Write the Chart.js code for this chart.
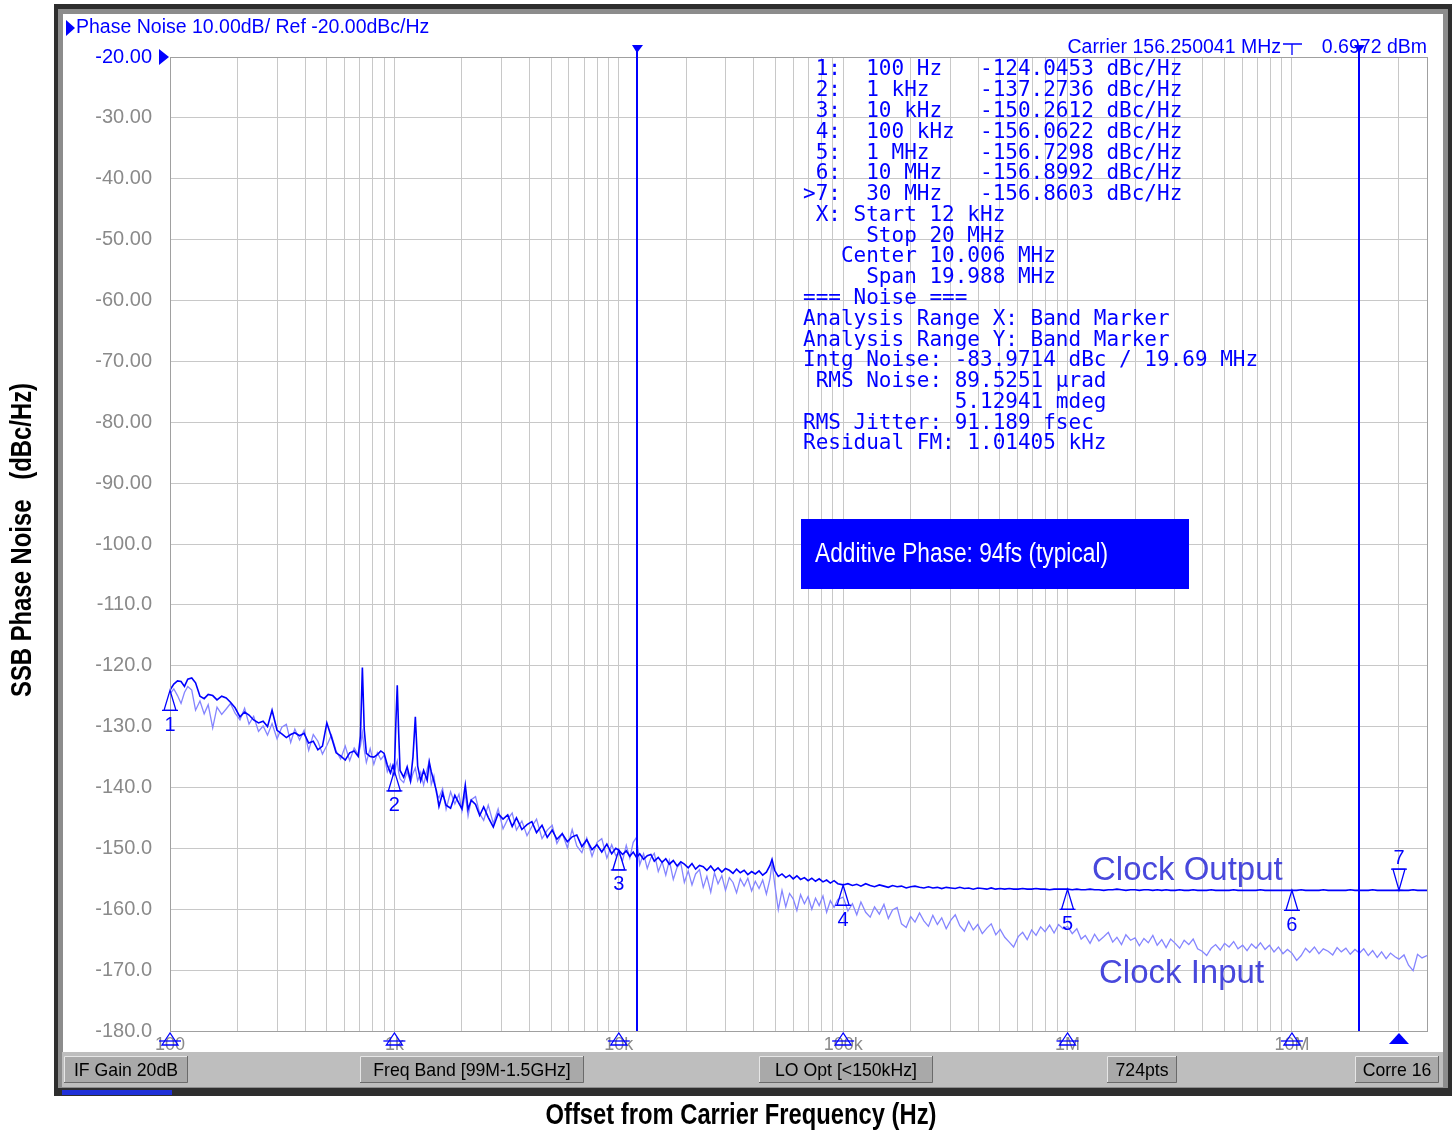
<!DOCTYPE html>
<html>
<head>
<meta charset="utf-8">
<script src="https://cdn.jsdelivr.net/npm/chart.js@4.4.1/dist/chart.umd.min.js"></script>
<style>
  html, body { margin: 0; padding: 0; background: #fff; }
  canvas { display: block; }
</style>
</head>
<body>
<canvas id="pn" width="1456" height="1131"></canvas>
<script>
// offset frequencies (Hz), shared by both traces
const freqs = [
  // 100 Hz - 1 kHz
  100,104,108,112,116,120,125,130,136,142,148,155,162,170,178,186,195,205,215,225,
  236,248,260,272,285,300,315,330,345,360,378,396,415,435,456,478,500,524,550,576,
  604,632,662,690,706,720,734,750,780,810,840,870,900,930,960,985,
  // 1 kHz - 10 kHz
  1000,1015,1030,1045,1060,1100,1140,1180,1210,1240,1270,1310,1350,1400,1430,1460,1500,1540,1580,1640,
  1700,1780,1860,1940,2000,2070,2130,2200,2300,2400,2500,2620,2760,2900,3050,3200,3350,3500,3700,3900,
  4100,4300,4550,4800,5050,5300,5600,5900,6200,6500,6850,7200,7600,8000,8400,8850,9300,9700,
  // 10 kHz - 100 kHz
  10000,10400,10800,11200,11600,12000,12400,12900,13400,13900,14400,15000,15600,16200,16800,
  17500,18200,18900,19600,20400,21200,22000,22900,23800,24700,25700,26700,27700,28800,29900,
  31100,32300,33500,34800,36200,37600,39100,40600,42200,43800,45500,47200,48200,49500,51400,
  53400,55500,57700,59900,62200,64600,67200,69800,72500,75300,78200,81300,84400,87700,91100,94700,
  // 100 kHz - 1 MHz
  100000,105000,110000,115000,120000,126000,132000,138000,145000,152000,
  159000,166000,174000,182000,191000,200000,209000,219000,229000,240000,
  251000,263000,275000,288000,302000,316000,331000,347000,363000,380000,
  398000,417000,437000,457000,479000,501000,525000,550000,575000,603000,
  631000,661000,692000,724000,759000,794000,832000,871000,912000,955000,
  // 1 MHz - 10 MHz
  1000000,1050000,1100000,1150000,1200000,1260000,1320000,1380000,1450000,1520000,
  1590000,1660000,1740000,1820000,1910000,2000000,2090000,2190000,2290000,2400000,
  2510000,2630000,2750000,2880000,3020000,3160000,3310000,3470000,3630000,3800000,
  3980000,4170000,4370000,4570000,4790000,5010000,5250000,5500000,5750000,6030000,
  6310000,6610000,6920000,7240000,7590000,7940000,8320000,8710000,9120000,9550000,
  // 10 MHz - 40 MHz
  10000000,10500000,11000000,11500000,12000000,12600000,13200000,13800000,14500000,15200000,
  15900000,16600000,17400000,18200000,19100000,20000000,20900000,21900000,22900000,24000000,
  25100000,26300000,27500000,28800000,30000000,31600000,33100000,34700000,36300000,38000000,40000000
];

// Clock Output trace (dBc/Hz)
const clockOutput = [
  -124.0,-123.0,-122.5,-122.6,-123.4,-122.2,-122.0,-122.8,-125.0,-125.4,-124.7,-124.9,-125.6,-125.0,-125.3,-126.0,-126.9,-128.4,-127.6,-128.1,
  -128.9,-129.4,-129.1,-130.0,-127.3,-130.6,-131.2,-131.8,-131.3,-131.0,-131.5,-131.1,-132.7,-132.4,-133.8,-133.2,-129.4,-131.7,-134.3,-134.8,
  -135.5,-134.3,-134.0,-134.9,-131.5,-120.3,-130.5,-134.4,-134.9,-135.0,-134.6,-134.0,-134.4,-136.3,-137.6,-136.4,

  -137.3,-129.5,-123.2,-131.0,-137.2,-138.3,-136.6,-138.9,-135.0,-128.4,-136.5,-138.9,-137.2,-138.8,-135.8,-137.4,-139.0,-140.6,-143.1,-140.9,
  -142.9,-143.4,-141.3,-142.6,-143.5,-139.6,-143.6,-142.1,-142.8,-144.6,-143.2,-144.9,-146.5,-144.3,-145.2,-144.5,-146.4,-145.0,-146.9,-146.1,
  -145.6,-147.4,-146.2,-148.2,-147.0,-148.5,-147.6,-148.9,-148.1,-147.8,-149.7,-148.6,-150.2,-149.4,-150.6,-149.3,-150.9,-150.0,

  -150.3,-151.0,-150.4,-151.3,-150.6,-151.5,-150.9,-151.8,-151.2,-151.0,-152.1,-151.5,-152.3,-151.7,-152.6,
  -152.0,-152.9,-152.2,-152.6,-153.2,-152.5,-153.4,-152.8,-153.0,-153.6,-152.9,-153.7,-153.2,-153.9,-153.3,
  -153.6,-154.1,-153.4,-154.0,-153.6,-154.3,-153.8,-154.2,-153.7,-154.4,-153.9,-152.8,-151.8,-153.6,-154.6,
  -154.2,-154.8,-154.4,-155.0,-154.5,-155.1,-154.8,-155.3,-154.9,-155.4,-155.0,-155.5,-155.2,-155.7,-155.3,-155.8,

  -156.0,-155.8,-156.1,-155.9,-156.2,-155.8,-156.1,-156.3,-156.0,-156.2,
  -156.4,-156.1,-156.3,-156.2,-156.5,-156.3,-156.2,-156.4,-156.5,-156.3,
  -156.5,-156.4,-156.6,-156.4,-156.5,-156.6,-156.4,-156.6,-156.5,-156.7,
  -156.5,-156.6,-156.7,-156.5,-156.7,-156.6,-156.7,-156.6,-156.7,-156.7,
  -156.6,-156.7,-156.7,-156.6,-156.7,-156.7,-156.8,-156.7,-156.7,-156.7,

  -156.7,-156.8,-156.7,-156.8,-156.8,-156.7,-156.8,-156.8,-156.9,-156.8,
  -156.8,-156.7,-156.8,-156.9,-156.8,-156.8,-156.9,-156.8,-156.8,-156.9,
  -156.8,-156.9,-156.8,-156.9,-156.9,-156.8,-156.9,-156.9,-156.8,-156.9,
  -156.9,-156.9,-156.8,-156.9,-156.9,-156.9,-156.9,-156.8,-156.9,-156.9,
  -156.9,-156.9,-156.9,-156.8,-156.9,-156.9,-156.9,-156.9,-156.9,-156.9,

  -156.9,-156.9,-156.8,-156.9,-156.9,-156.9,-156.9,-156.8,-156.9,-156.9,
  -156.9,-156.9,-156.9,-156.8,-156.9,-156.9,-156.9,-156.9,-156.8,-156.9,
  -156.9,-156.9,-156.9,-156.9,-156.86,-156.9,-156.9,-156.8,-156.9,-156.9,-156.9
];

// Clock Input trace (dBc/Hz)
const clockInput = [
  -124.6,-123.8,-124.9,-126.2,-124.4,-123.4,-124.0,-127.3,-125.8,-127.9,-126.4,-130.2,-126.8,-128.0,-127.1,-126.2,-127.8,-128.9,-127.0,-129.6,
  -128.3,-130.8,-129.9,-131.4,-129.5,-132.0,-130.1,-129.6,-132.6,-130.4,-132.2,-130.6,-133.9,-131.3,-132.4,-134.5,-133.1,-131.4,-134.0,-135.3,
  -133.2,-135.6,-133.5,-134.6,-133.2,-131.0,-133.8,-135.9,-133.6,-136.2,-134.3,-135.4,-134.7,-137.4,-136.2,-138.1,

  -137.9,-136.4,-135.6,-137.5,-138.6,-139.2,-137.4,-139.1,-137.7,-136.8,-138.9,-137.5,-139.6,-137.0,-135.7,-139.5,-138.1,-141.0,-141.7,-140.2,
  -143.6,-140.7,-142.7,-141.1,-143.9,-141.0,-144.7,-142.0,-141.5,-144.3,-145.4,-142.9,-145.9,-143.5,-146.8,-145.2,-144.2,-147.0,-145.5,-147.9,
  -146.4,-145.2,-148.4,-147.0,-146.2,-149.2,-147.5,-149.9,-146.9,-149.6,-150.7,-148.3,-151.3,-149.0,-148.4,-151.6,-149.4,-151.2,

  -150.8,-152.0,-149.5,-151.6,-149.0,-148.2,-152.7,-150.9,-153.3,-151.6,-150.8,-153.8,-152.2,-154.4,-152.0,
  -155.1,-153.1,-152.4,-155.6,-153.7,-156.0,-154.2,-153.5,-156.4,-154.6,-157.2,-154.0,-155.8,-154.5,-156.9,
  -154.8,-155.6,-157.3,-155.0,-156.2,-154.9,-157.0,-155.4,-156.6,-155.2,-157.5,-155.0,-152.4,-155.8,-160.1,
  -156.9,-159.6,-157.4,-158.3,-160.2,-157.6,-159.1,-157.9,-160.0,-158.2,-159.4,-157.8,-160.5,-158.6,-159.7,-158.4,

  -158.0,-160.3,-159.1,-160.9,-158.8,-160.5,-161.3,-159.6,-160.8,-159.2,
  -161.5,-160.1,-159.7,-162.4,-163.0,-161.2,-162.1,-160.6,-161.9,-162.8,
  -161.0,-162.5,-161.4,-163.2,-161.8,-160.9,-162.7,-163.6,-162.0,-163.4,
  -162.5,-164.0,-163.1,-162.4,-164.2,-163.3,-164.6,-165.4,-166.2,-164.5,
  -163.8,-165.0,-163.4,-164.3,-162.9,-163.7,-162.6,-163.9,-162.5,-163.2,

  -162.8,-164.0,-163.2,-164.9,-164.3,-165.6,-164.1,-165.2,-164.5,-163.8,
  -165.4,-164.6,-165.8,-164.2,-165.1,-164.7,-166.0,-164.8,-165.5,-164.3,
  -165.9,-165.0,-166.3,-164.9,-165.6,-166.4,-165.1,-165.8,-164.9,-166.5,
  -166.9,-167.6,-166.4,-165.8,-166.7,-165.6,-166.2,-165.3,-166.5,-165.9,
  -166.8,-165.7,-166.4,-165.5,-166.6,-165.9,-167.0,-166.2,-167.3,-166.6,

  -167.2,-168.4,-167.6,-166.4,-167.1,-166.2,-167.3,-166.5,-166.9,-167.5,
  -166.3,-167.0,-166.4,-167.4,-166.6,-167.2,-166.5,-167.6,-166.8,-167.9,
  -167.0,-168.1,-167.2,-167.8,-168.2,-167.5,-169.2,-170.1,-167.4,-168.0,-167.6
];

// marker table
const markerFreqs = [100, 1e3, 1e4, 1e5, 1e6, 1e7, 3e7];
const markerValues = [-124.0453, -137.2736, -150.2612, -156.0622, -156.7298, -156.8992, -156.8603];
const markerNames = ['1', '2', '3', '4', '5', '6', '7'];

// axes
const xMin = 100, xMax = 40e6;
const yMin = -180, yMax = -20, yStep = 10;
const decadeTicks = [100, 1e3, 1e4, 1e5, 1e6, 1e7];
const decadeLabels = ['100', '1k', '10k', '100k', '1M', '10M'];
const bandStart = 12e3, bandStop = 20e6;

const readout = [
  ' 1:  100 Hz   -124.0453 dBc/Hz',
  ' 2:  1 kHz    -137.2736 dBc/Hz',
  ' 3:  10 kHz   -150.2612 dBc/Hz',
  ' 4:  100 kHz  -156.0622 dBc/Hz',
  ' 5:  1 MHz    -156.7298 dBc/Hz',
  ' 6:  10 MHz   -156.8992 dBc/Hz',
  '>7:  30 MHz   -156.8603 dBc/Hz',
  ' X: Start 12 kHz',
  '     Stop 20 MHz',
  '   Center 10.006 MHz',
  '     Span 19.988 MHz',
  '=== Noise ===',
  'Analysis Range X: Band Marker',
  'Analysis Range Y: Band Marker',
  'Intg Noise: -83.9714 dBc / 19.69 MHz',
  ' RMS Noise: 89.5251 \u00b5rad',
  '            5.12941 mdeg',
  'RMS Jitter: 91.189 fsec',
  'Residual FM: 1.01405 kHz'
];

const statusButtons = [
  ['IF Gain 20dB', 64, 124],
  ['Freq Band [99M-1.5GHz]', 360, 224],
  ['LO Opt [<150kHz]', 759, 174],
  ['724pts', 1107, 70],
  ['Corre 16', 1355, 84]
];

const BLUE = '#0000ff';
const GRAY_TXT = '#8a8a8a';
const SANS = "'Liberation Sans', Arial, sans-serif";
const MONO = "'DejaVu Sans Mono', 'Liberation Mono', monospace";

// minor log grid: 1..9 per decade
const gridTicks = [];
decadeTicks.forEach(d => {
  for (let m = 1; m <= 9; m++) {
    if (d * m <= xMax) gridTicks.push(d * m);
  }
});

// squeeze text horizontally to a measured width (narrow face)
function fitText(ctx, text, x, y, width, center) {
  const w = ctx.measureText(text).width;
  ctx.save();
  ctx.translate(x, y);
  ctx.scale(width / w, 1);
  ctx.textAlign = 'left';
  ctx.fillText(text, center ? -w / 2 : 0, 0);
  ctx.restore();
}

function bevelButton(ctx, label, x, w) {
  const y = 1056, h = 27;
  ctx.fillStyle = '#a9a9a9';
  ctx.fillRect(x, y, w, h);
  ctx.strokeStyle = '#e6e6e6';
  ctx.lineWidth = 1;
  ctx.beginPath();
  ctx.moveTo(x + 0.5, y + h); ctx.lineTo(x + 0.5, y + 0.5); ctx.lineTo(x + w, y + 0.5);
  ctx.stroke();
  ctx.strokeStyle = '#6a6a6a';
  ctx.beginPath();
  ctx.moveTo(x + w - 0.5, y); ctx.lineTo(x + w - 0.5, y + h - 0.5); ctx.lineTo(x, y + h - 0.5);
  ctx.stroke();
  ctx.fillStyle = '#000';
  ctx.font = '19px ' + SANS;
  ctx.textBaseline = 'middle';
  ctx.textAlign = 'left';
  fitText(ctx, label, x + w / 2, y + h / 2 + 1, ctx.measureText(label).width * 0.93, true);
}

const framePlugin = {
  id: 'frame',
  beforeDraw(chart) {
    const ctx = chart.ctx;
    ctx.save();
    ctx.fillStyle = '#fff';
    ctx.fillRect(0, 0, chart.width, chart.height);
    // analyzer window
    ctx.fillStyle = '#2e2e2e';
    ctx.fillRect(54, 4, 1398, 1092);
    ctx.fillStyle = '#8c8c8c';
    ctx.fillRect(58, 9, 1390, 1079);
    ctx.fillStyle = '#fff';
    ctx.fillRect(63, 14, 1380, 1038);
    // status bar
    ctx.fillStyle = '#bebebe';
    ctx.fillRect(62, 1052, 1381, 35);
    ctx.fillStyle = '#2030d8';
    ctx.fillRect(62, 1090, 110, 5);
    statusButtons.forEach(b => bevelButton(ctx, b[0], b[1], b[2]));

    // axis titles
    ctx.fillStyle = '#000';
    ctx.font = 'bold 29px ' + SANS;
    ctx.textBaseline = 'middle';
    fitText(ctx, 'Offset from Carrier Frequency (Hz)', 741, 1116, 391, true);
    ctx.save();
    ctx.translate(23, 540);
    ctx.rotate(-Math.PI / 2);
    fitText(ctx, 'SSB Phase Noise   (dBc/Hz)', 0, 0, 314, true);
    ctx.restore();
    ctx.restore();
  }
};

function upTriangle(ctx, x, y, h, hw, filled) {
  ctx.beginPath();
  ctx.moveTo(x, y);
  ctx.lineTo(x - hw, y + h);
  ctx.lineTo(x + hw, y + h);
  ctx.closePath();
  if (filled) ctx.fill(); else ctx.stroke();
}

const overlayPlugin = {
  id: 'overlay',
  afterDraw(chart) {
    const ctx = chart.ctx;
    const xs = chart.scales.x, ys = chart.scales.y;
    const area = chart.chartArea;
    ctx.save();

    // plot frame top / right
    ctx.strokeStyle = '#a0a0a0';
    ctx.lineWidth = 1;
    ctx.strokeRect(area.left + 0.5, area.top + 0.5, area.right - area.left, area.bottom - area.top);

    // band marker lines
    ctx.strokeStyle = BLUE;
    ctx.fillStyle = BLUE;
    ctx.lineWidth = 2;
    [bandStart, bandStop].forEach(f => {
      const x = Math.round(xs.getPixelForValue(f));
      ctx.beginPath();
      ctx.moveTo(x, 46);
      ctx.lineTo(x, area.bottom);
      ctx.stroke();
      ctx.beginPath();
      ctx.moveTo(x - 5, 45);
      ctx.lineTo(x + 6, 45);
      ctx.lineTo(x, 53);
      ctx.closePath();
      ctx.fill();
    });

    // reference level arrow
    ctx.beginPath();
    ctx.moveTo(159, 49);
    ctx.lineTo(169, 57);
    ctx.lineTo(159, 65);
    ctx.closePath();
    ctx.fill();

    // markers on the trace
    ctx.lineWidth = 1.3;
    ctx.font = '20px ' + SANS;
    ctx.textAlign = 'center';
    ctx.textBaseline = 'middle';
    markerFreqs.forEach((f, i) => {
      const x = xs.getPixelForValue(f);
      const y = ys.getPixelForValue(markerValues[i]);
      if (markerNames[i] === '7') {
        ctx.beginPath();
        ctx.moveTo(x, y);
        ctx.lineTo(x - 6, y - 21);
        ctx.lineTo(x + 6, y - 21);
        ctx.closePath();
        ctx.stroke();
        ctx.beginPath();
        ctx.moveTo(x - 8, y - 21); ctx.lineTo(x + 8, y - 21);
        ctx.stroke();
        ctx.fillText(markerNames[i], x, y - 32);
        upTriangle(ctx, x, area.bottom + 2, 11, 10, true);
      } else {
        upTriangle(ctx, x, y, 20, 6, false);
        ctx.beginPath();
        ctx.moveTo(x - 8, y + 20); ctx.lineTo(x + 8, y + 20);
        ctx.stroke();
        ctx.fillText(markerNames[i], x, y + 35);
        // marker on the frequency axis
        upTriangle(ctx, x, area.bottom + 2, 12, 8, false);
        ctx.beginPath();
        ctx.moveTo(x - 11, area.bottom + 10); ctx.lineTo(x + 11, area.bottom + 10);
        ctx.stroke();
      }
    });

    // trace labels
    ctx.fillStyle = '#4848dc';
    ctx.font = '33px ' + SANS;
    ctx.textAlign = 'left';
    ctx.fillText('Clock Output', 1092, 871);
    ctx.fillText('Clock Input', 1099, 974);

    // marker readout
    ctx.fillStyle = BLUE;
    ctx.font = '21px ' + MONO;
    readout.forEach((line, i) => {
      ctx.fillText(line, 803, 70 + i * 20.78);
    });

    // header
    ctx.font = '19.5px ' + SANS;
    ctx.beginPath();
    ctx.moveTo(66, 20); ctx.lineTo(75, 28); ctx.lineTo(66, 36);
    ctx.closePath();
    ctx.fill();
    ctx.fillText('Phase Noise 10.00dB/ Ref -20.00dBc/Hz', 76, 28);
    ctx.textAlign = 'right';
    ctx.fillText('Carrier 156.250041 MHz', 1281, 48);
    ctx.fillText('0.6972 dBm', 1427, 48);
    ctx.strokeStyle = BLUE;
    ctx.lineWidth = 1.3;
    ctx.beginPath();
    ctx.moveTo(1283, 44); ctx.lineTo(1302, 44);
    ctx.moveTo(1292, 44); ctx.lineTo(1292, 55);
    ctx.stroke();

    // annotation box
    ctx.fillStyle = BLUE;
    ctx.fillRect(801, 519, 388, 70);
    ctx.fillStyle = '#fff';
    ctx.font = '27px ' + SANS;
    ctx.textBaseline = 'middle';
    fitText(ctx, 'Additive Phase: 94fs (typical)', 815, 555, 293, false);

    ctx.restore();
  }
};

const ctx = document.getElementById('pn').getContext('2d');
new Chart(ctx, {
  type: 'line',
  data: {
    datasets: [
      {
        label: 'Clock Output',
        data: freqs.map((f, i) => ({ x: f, y: clockOutput[i] })),
        borderColor: '#0000ff',
        borderWidth: 1.6,
        pointRadius: 0,
        tension: 0
      },
      {
        label: 'Clock Input',
        data: freqs.map((f, i) => ({ x: f, y: clockInput[i] })),
        borderColor: '#8585ff',
        borderWidth: 1.3,
        pointRadius: 0,
        tension: 0
      }
    ]
  },
  options: {
    responsive: false,
    animation: false,
    devicePixelRatio: 1,
    layout: { padding: { top: 57, right: 29, left: 0, bottom: 0 } },
    plugins: {
      legend: { display: false },
      tooltip: { enabled: false }
    },
    scales: {
      x: {
        type: 'logarithmic',
        min: xMin,
        max: xMax,
        afterBuildTicks: scale => { scale.ticks = gridTicks.map(v => ({ value: v })); },
        afterFit: scale => { scale.height = 100; },
        grid: { color: '#c8c8c8', lineWidth: 1, drawTicks: false },
        border: { color: '#a0a0a0' },
        ticks: {
          autoSkip: false,
          maxRotation: 0,
          minRotation: 0,
          padding: 3,
          color: GRAY_TXT,
          font: { family: SANS, size: 18 },
          callback: v => {
            const k = decadeTicks.indexOf(v);
            return k >= 0 ? decadeLabels[k] : '';
          }
        }
      },
      y: {
        min: yMin,
        max: yMax,
        afterFit: scale => { scale.width = 170; },
        grid: { color: '#c8c8c8', lineWidth: 1, drawTicks: false },
        border: { color: '#a0a0a0' },
        ticks: {
          stepSize: yStep,
          padding: 18,
          color: c => (c.tick && c.tick.value === yMax ? BLUE : GRAY_TXT),
          font: { family: SANS, size: 20 },
          callback: v => (v >= -90 ? v.toFixed(2) : v.toFixed(1))
        }
      }
    }
  },
  plugins: [framePlugin, overlayPlugin]
});
</script>
</body>
</html>
